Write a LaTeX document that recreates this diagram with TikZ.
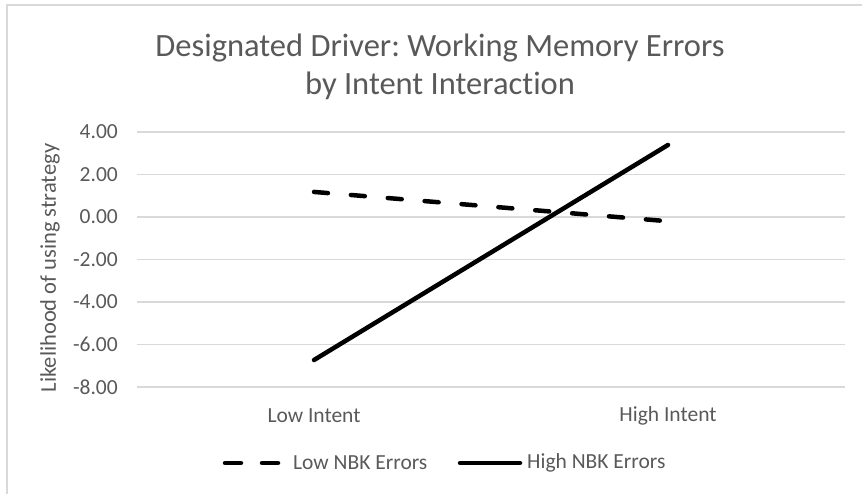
\documentclass[tikz,border=0pt]{standalone}
\usepackage{fontspec}
\setmainfont{Carlito}[Ligatures=NoCommon]
\usepackage{tikz}
\frenchspacing

\definecolor{txtgray}{HTML}{595959}
\definecolor{gridgray}{HTML}{D9D9D9}

\tikzset{
  gridline/.style={draw=gridgray, line width=1.3pt},
  lbl/.style={text=txtgray, font=\fontsize{21.5}{25}\selectfont, inner sep=0pt},
  series/.style={line width=4.5pt, line cap=round},
  dashser/.style={series, dash pattern=on 14pt off 23pt},
}

\begin{document}
\begin{tikzpicture}[x=1pt, y=-1pt]
   \useasboundingbox (0,0) rectangle (862,494);
   \draw [gridgray, line width=1.5pt] (7,494) -- (7,5) -- (862,5);

   % title
   \node [lbl, font=\fontsize{32.5}{38}\selectfont, align=center] (title) at (440,67)
      {Designated Driver: Working Memory Errors\\by Intent Interaction};

   % y axis: grid and values
   \begin{scope}[shift={(0,217)}, y=21.25pt]
      \foreach \v/\t in {4/4.00, 2/2.00, 0/0.00, -2/-2.00, -4/-4.00, -6/-6.00, -8/-8.00} {
         \draw [gridline] (137,\v) -- (845,\v);
         \node [lbl, anchor=east] (tick\v) at (118,\v) {\t};
      }
      \coordinate (lowA) at (314,1.18);
      \coordinate (lowB) at (668,-0.2);
      \coordinate (highA) at (314,-6.73);
      \coordinate (highB) at (668,3.39);
   \end{scope}

   \node [lbl, font=\fontsize{22.5}{26}\selectfont, rotate=90] (ytitle) at (50,268) {Likelihood of using strategy};

   % categories
   \node [lbl] (lowint) at (314,416) {Low Intent};
   \node [lbl] (highint) at (668,416) {High Intent};

   % series
   \draw [dashser] (lowA) -- (lowB);
   \draw [series] (highA) -- (highB);

   % legend
   \coordinate (lgdA) at (225,463);
   \coordinate (lgdB) at (278,463);
   \coordinate (lgsA) at (460,463);
   \coordinate (lgsB) at (520,463);
   \draw [series, dash pattern=on 16pt off 21pt] (lgdA) -- (lgdB);
   \draw [series] (lgsA) -- (lgsB);
   \node [lbl, anchor=west] (lglow) at (293,463) {Low NBK Errors};
   \node [lbl, anchor=west] (lghigh) at (527,463) {High NBK Errors};
\end{tikzpicture}
\end{document}
